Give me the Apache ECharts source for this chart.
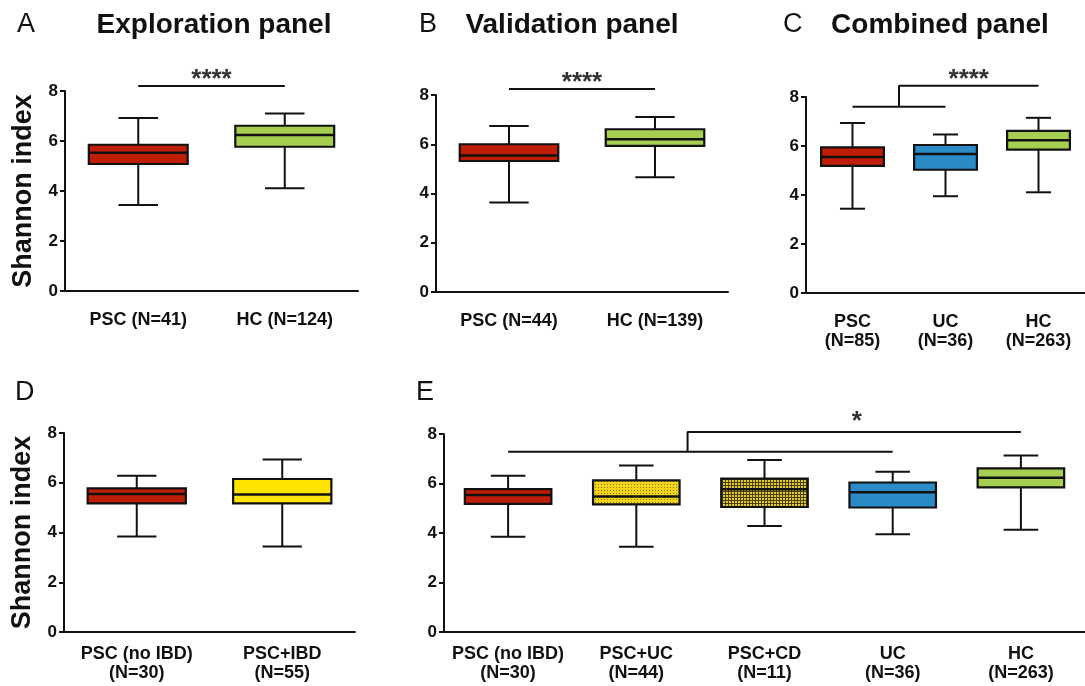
<!DOCTYPE html>
<html><head><meta charset="utf-8">
<script src="https://cdn.jsdelivr.net/npm/echarts@6/dist/echarts.min.js"></script>
<style>html,body{margin:0;padding:0;background:#fff}#c{width:1085px;height:686px}</style>
</head><body><div id="c"></div>
<script>
// ---------- DATA ----------
// box stats: [min, Q1, median, Q3, max]
const catsA = ['PSC (N=41)', 'HC (N=124)'];
const boxA  = [[3.44, 5.08, 5.53, 5.85, 6.92], [4.11, 5.77, 6.24, 6.61, 7.10]];
const catsB = ['PSC (N=44)', 'HC (N=139)'];
const boxB  = [[3.63, 5.32, 5.54, 6.00, 6.74], [4.66, 5.93, 6.20, 6.61, 7.11]];
const catsC = ['PSC\n(N=85)', 'UC\n(N=36)', 'HC\n(N=263)'];
const boxC  = [[3.44, 5.19, 5.55, 5.94, 6.94], [3.95, 5.03, 5.67, 6.04, 6.47], [4.11, 5.85, 6.23, 6.62, 7.15]];
const catsD = ['PSC (no IBD)\n(N=30)', 'PSC+IBD\n(N=55)'];
const boxD  = [[3.84, 5.17, 5.55, 5.77, 6.28], [3.44, 5.17, 5.53, 6.15, 6.93]];
const catsE = ['PSC (no IBD)\n(N=30)', 'PSC+UC\n(N=44)', 'PSC+CD\n(N=11)', 'UC\n(N=36)', 'HC\n(N=263)'];
const boxE  = [[3.85, 5.18, 5.54, 5.77, 6.31], [3.44, 5.16, 5.47, 6.13, 6.73], [4.28, 5.05, 5.77, 6.20, 6.95], [3.95, 5.03, 5.65, 6.04, 6.47], [4.13, 5.84, 6.23, 6.61, 7.13]];
const yTicks = [0, 2, 4, 6, 8];
const yName = 'Shannon index';
const panelLetters = ['A', 'B', 'C', 'D', 'E'];
const panelTitles = ['Exploration panel', 'Validation panel', 'Combined panel', '', ''];
// significance brackets: polylines in [category position, value]
const bracketA = [[[0, 8.2], [1, 8.2]]];
const bracketB = [[[0, 8.24], [1, 8.24]]];
const bracketC = [[[0, 7.6], [1, 7.6]], [[0.5, 7.6], [0.5, 8.46], [2, 8.46]]];
const bracketE = [[[0, 7.28], [3, 7.28]], [[1.4, 7.28], [1.4, 8.08], [4, 8.08]]];
const sigA = ['****', 0.5, 8.2];
const sigB = ['****', 0.5, 8.24];
const sigC = ['****', 1.25, 8.46];
const sigE = ['*', 2.72, 8.08];

// ---------- STYLE ----------
const FONT = '"Liberation Sans", Arial, sans-serif';
const INK = '#111';
const RED = '#BF1E06', GREEN = '#A6CF52', BLUE = '#2A8BC7', YELLOW = '#FFE400';
function tile(w, h, draw) {
  const c = document.createElement('canvas'); c.width = w; c.height = h;
  draw(c.getContext('2d')); return c;
}
const dotted = { image: tile(3, 3, g => { g.fillStyle = '#F2D41C'; g.fillRect(0, 0, 3, 3); g.fillStyle = '#8E7A0E'; g.fillRect(1, 1, 1, 1); }), repeat: 'repeat' };
const checker = { image: tile(3, 3, g => { g.fillStyle = '#4A4008'; g.fillRect(0, 0, 3, 3); g.fillStyle = '#E3CB2A'; g.fillRect(0, 0, 2, 2); }), repeat: 'repeat' };

const panels = [
  { cats: catsA, box: boxA, fills: [RED, GREEN], brackets: bracketA, sig: sigA, grid: { left: 65, top: 91, width: 293, height: 200 }, lblMargin: 20, yName: true, sigDist: -7 },
  { cats: catsB, box: boxB, fills: [RED, GREEN], brackets: bracketB, sig: sigB, grid: { left: 436, top: 95, width: 292, height: 197 }, lblMargin: 20, yName: false, sigDist: -7 },
  { cats: catsC, box: boxC, fills: [RED, BLUE, GREEN], brackets: bracketC, sig: sigC, grid: { left: 806, top: 97, width: 294, height: 196 }, lblMargin: 20, yName: false, sigDist: -7 },
  { cats: catsD, box: boxD, fills: [RED, YELLOW], brackets: [], sig: null, grid: { left: 64, top: 433, width: 291, height: 199 }, lblMargin: 13, yName: true },
  { cats: catsE, box: boxE, fills: [RED, dotted, checker, BLUE, GREEN], brackets: bracketE, sig: sigE, grid: { left: 444, top: 434, width: 653, height: 198 }, lblMargin: 13, yName: false, sigDist: -3 }
];
const letterPos = [[17, 25], [419, 25], [783, 25], [15, 393], [416, 393]];
const titlePos = [[214, 25], [572, 25], [940, 25]];

function makeRender(fills) {
  return function (params, api) {
    const i = api.value(0);
    const lo = api.coord([i, api.value(1)]);
    const q1 = api.coord([i, api.value(2)]);
    const md = api.coord([i, api.value(3)]);
    const q3 = api.coord([i, api.value(4)]);
    const hi = api.coord([i, api.value(5)]);
    const band = api.size([1, 0])[0];
    const bw = band * 0.675, cw = band * 0.27;
    const x = lo[0];
    const ls = { stroke: INK, lineWidth: 2 };
    return { type: 'group', children: [
      { type: 'line', shape: { x1: x, y1: hi[1], x2: x, y2: q3[1] }, style: ls },
      { type: 'line', shape: { x1: x, y1: q1[1], x2: x, y2: lo[1] }, style: ls },
      { type: 'line', shape: { x1: x - cw / 2, y1: hi[1], x2: x + cw / 2, y2: hi[1] }, style: ls },
      { type: 'line', shape: { x1: x - cw / 2, y1: lo[1], x2: x + cw / 2, y2: lo[1] }, style: ls },
      { type: 'rect', shape: { x: x - bw / 2, y: q3[1], width: bw, height: q1[1] - q3[1] }, style: { fill: fills[params.dataIndex], stroke: INK, lineWidth: 2.2 } },
      { type: 'line', shape: { x1: x - bw / 2, y1: md[1], x2: x + bw / 2, y2: md[1] }, style: { stroke: INK, lineWidth: 2.5 } }
    ] };
  };
}

const grid = [], xAxis = [], yAxis = [], series = [];
const n = panels.length;
panels.forEach((p, k) => {
  grid.push(p.grid);
  xAxis.push({
    type: 'category', gridIndex: k, data: p.cats, boundaryGap: true,
    axisLine: { onZero: false, lineStyle: { color: INK, width: 2 } },
    axisTick: { alignWithLabel: true, length: 6, lineStyle: { color: INK, width: 2 } },
    axisLabel: { interval: 0, margin: p.lblMargin, color: INK, fontSize: 18, fontWeight: 'bold', fontFamily: FONT, lineHeight: 19 },
    splitLine: { show: false }
  });
  yAxis.push({
    type: 'value', gridIndex: k, min: yTicks[0], max: yTicks[yTicks.length - 1], interval: yTicks[1] - yTicks[0],
    axisLine: { show: true, onZero: false, lineStyle: { color: INK, width: 2 } },
    axisTick: { show: true, length: 5, lineStyle: { color: INK, width: 2 } },
    axisLabel: { margin: 7, color: INK, fontSize: 17, fontWeight: 'bold', fontFamily: FONT },
    splitLine: { show: false },
    name: p.yName ? yName : '', nameLocation: 'middle', nameGap: 28,
    nameTextStyle: { color: INK, fontSize: 27, fontWeight: 'bold', fontFamily: FONT }
  });
  series.push({
    type: 'custom', xAxisIndex: k, yAxisIndex: k, renderItem: makeRender(p.fills),
    encode: { x: 0, y: [1, 2, 3, 4, 5] },
    data: p.box.map((b, i) => [i].concat(b)), silent: true
  });
});
// hidden linear x axes for bracket annotations
panels.forEach((p, k) => {
  xAxis.push({ type: 'value', gridIndex: k, min: -0.5, max: p.cats.length - 0.5, show: false, axisLine: { onZero: false } });
  const xi = n + k;
  p.brackets.forEach(line => {
    series.push({ type: 'line', xAxisIndex: xi, yAxisIndex: k, data: line, symbol: 'none', clip: false, silent: true,
      lineStyle: { color: INK, width: 2 } });
  });
  if (p.sig) {
    series.push({ type: 'scatter', xAxisIndex: xi, yAxisIndex: k, data: [[p.sig[1], p.sig[2]]], symbolSize: 0, clip: false, silent: true,
      itemStyle: { color: 'rgba(0,0,0,0)' },
      label: { show: true, formatter: p.sig[0], position: 'top', distance: p.sigDist, color: '#000', fontSize: 26, fontWeight: 'bold', fontFamily: FONT } });
  }
});

const graphic = [];
panelLetters.forEach((t, k) => {
  graphic.push({ type: 'text', x: letterPos[k][0], y: letterPos[k][1], silent: true,
    style: { text: t, font: '27px ' + FONT, fill: INK, align: 'left', verticalAlign: 'middle' } });
});
panelTitles.forEach((t, k) => {
  if (!t) return;
  graphic.push({ type: 'text', x: titlePos[k][0], y: titlePos[k][1], silent: true,
    style: { text: t, font: 'bold 28px ' + FONT, fill: INK, align: 'center', verticalAlign: 'middle' } });
});

const chart = echarts.init(document.getElementById('c'), null, { renderer: 'canvas' });
chart.setOption({
  animation: false, backgroundColor: '#fff',
  textStyle: { fontFamily: FONT },
  grid, xAxis, yAxis, series, graphic
});
</script></body></html>
